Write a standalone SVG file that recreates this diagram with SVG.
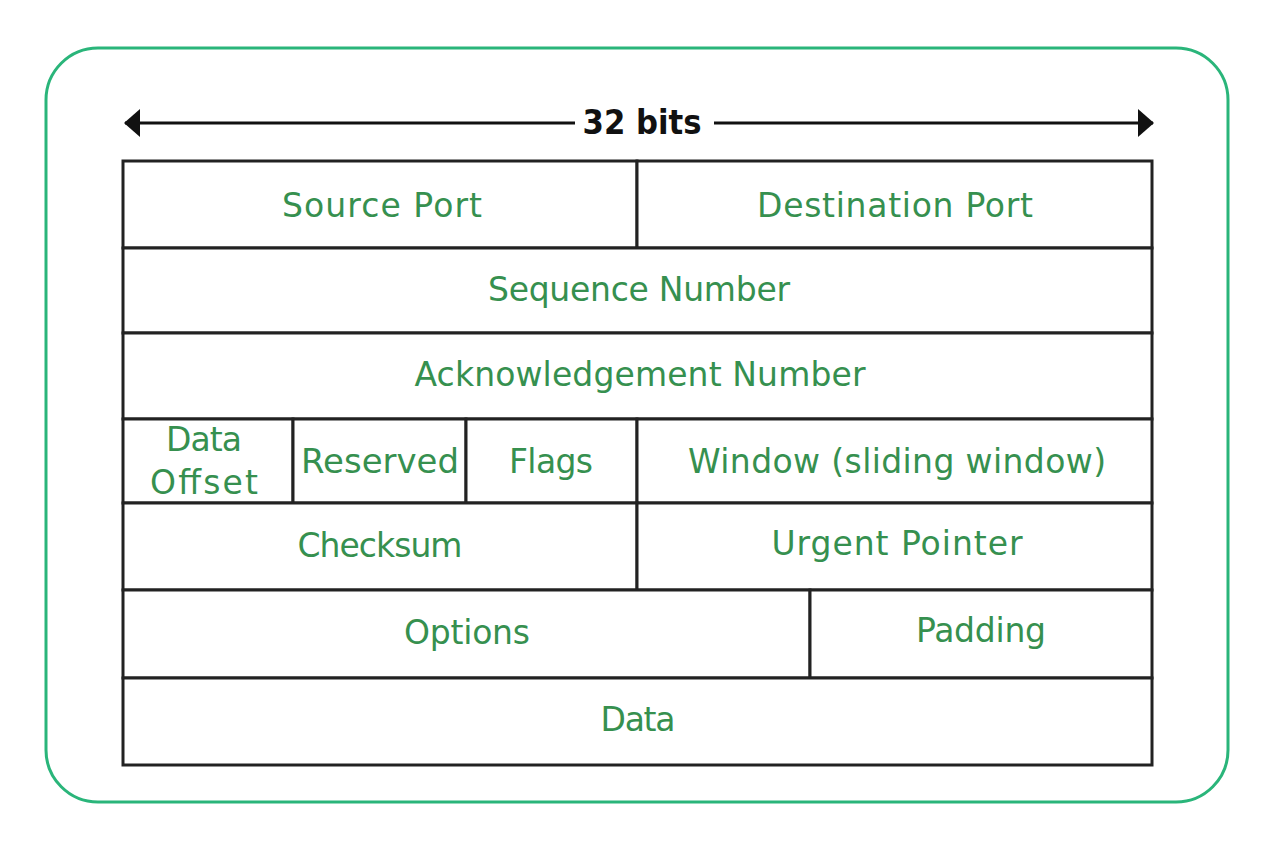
<svg xmlns="http://www.w3.org/2000/svg" width="1280" height="853" viewBox="0 0 1280 853">
<defs>
<style>
.cell{fill:#ffffff;stroke:#222222;stroke-width:3}
.lbl{font-family:"DejaVu Sans","Liberation Sans",sans-serif;font-size:33px;fill:#36904f;text-anchor:middle}
.title{font-family:"DejaVu Sans","Liberation Sans",sans-serif;font-size:34px;font-weight:bold;fill:#111111;text-anchor:middle}
.dim{stroke:#111111;stroke-width:3;fill:none}
</style>
<marker id="ah" viewBox="0 0 16 28" refX="15" refY="14" markerWidth="16" markerHeight="28" markerUnits="userSpaceOnUse" orient="auto-start-reverse">
<path d="M0,0 L16,14 L0,28 Z" fill="#111111"/>
</marker>
</defs>
<rect width="1280" height="853" fill="#ffffff"/>
<rect id="frame" x="46" y="48" width="1182" height="754" rx="52" ry="52" fill="none" stroke="#2ab57a" stroke-width="3"/>
<g id="connectors">
<line class="dim" x1="125" y1="123" x2="575" y2="123" marker-start="url(#ah)"/>
<line class="dim" x1="714" y1="123" x2="1153" y2="123" marker-end="url(#ah)"/>
</g>
<text id="width-label" class="title" x="642" y="134" textLength="119" lengthAdjust="spacingAndGlyphs">32 bits</text>
<g id="source-port"><rect class="cell" x="123" y="161" width="514" height="87"/><text class="lbl" x="382" y="217" textLength="200">Source Port</text></g>
<g id="destination-port"><rect class="cell" x="637" y="161" width="515" height="87"/><text class="lbl" x="895" y="217" textLength="276">Destination Port</text></g>
<g id="sequence-number"><rect class="cell" x="123" y="248" width="1029" height="85"/><text class="lbl" x="639" y="301" textLength="302">Sequence Number</text></g>
<g id="ack-number"><rect class="cell" x="123" y="333" width="1029" height="86"/><text class="lbl" x="640" y="386" textLength="451">Acknowledgement Number</text></g>
<g id="data-offset"><rect class="cell" x="123" y="419" width="170" height="84"/><text class="lbl" x="204" y="451" textLength="76">Data</text><text class="lbl" x="204" y="494" textLength="108">Offset</text></g>
<g id="reserved"><rect class="cell" x="293" y="419" width="173" height="84"/><text class="lbl" x="380" y="473" textLength="158" lengthAdjust="spacingAndGlyphs">Reserved</text></g>
<g id="flags"><rect class="cell" x="466" y="419" width="171" height="84"/><text class="lbl" x="551" y="473" textLength="84">Flags</text></g>
<g id="window"><rect class="cell" x="637" y="419" width="515" height="84"/><text class="lbl" x="897" y="473" textLength="418">Window (sliding window)</text></g>
<g id="checksum"><rect class="cell" x="123" y="503" width="514" height="87"/><text class="lbl" x="380" y="557" textLength="165">Checksum</text></g>
<g id="urgent-pointer"><rect class="cell" x="637" y="503" width="515" height="87"/><text class="lbl" x="897" y="555" textLength="251">Urgent Pointer</text></g>
<g id="options"><rect class="cell" x="123" y="590" width="687" height="88"/><text class="lbl" x="467" y="644" textLength="126">Options</text></g>
<g id="padding"><rect class="cell" x="810" y="590" width="342" height="88"/><text class="lbl" x="981" y="642" textLength="130">Padding</text></g>
<g id="data"><rect class="cell" x="123" y="678" width="1029" height="87"/><text class="lbl" x="638" y="731" textLength="75">Data</text></g>
</svg>
